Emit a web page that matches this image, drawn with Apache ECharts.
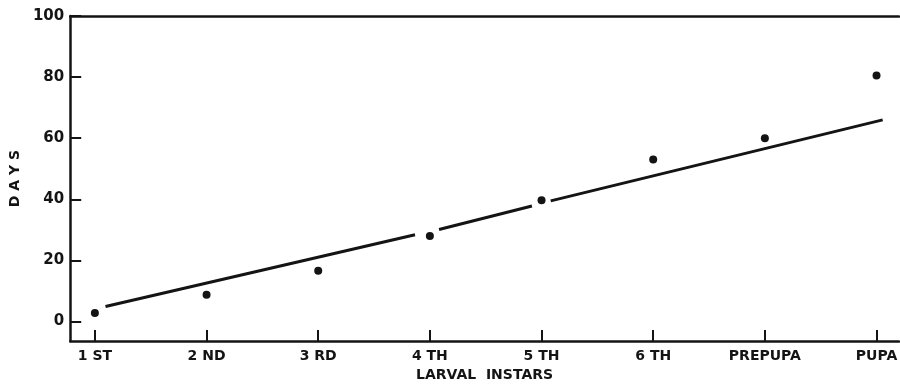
<!DOCTYPE html>
<html>
<head>
<meta charset="utf-8">
<script src="https://cdn.jsdelivr.net/npm/echarts@6/dist/echarts.min.js"></script>
<style>
  html, body { margin: 0; padding: 0; background: #fff; }
  #chart { width: 900px; height: 387px; }
</style>
</head>
<body>
<div id="chart"></div>
<script>
// stages (position 1..8 on the x axis)
var stages = ['1 ST', '2 ND', '3 RD', '4 TH', '5 TH', '6 TH', 'PREPUPA', 'PUPA'];
var stagePos = [1, 2, 3, 4, 5, 6, 7, 8];
// observed days for each stage
var days = [2.8, 8.8, 16.6, 28, 39.7, 53, 60, 80.5];
// fitted line (breaks where it passes the dots)
var fitLine = [[1.095, 4.9], [3.867, 28.4], null, [4.082, 30.1], [4.914, 37.8], null, [5.082, 39.5], [8.055, 66.0]];
var yTicks = [0, 20, 40, 60, 80, 100];

var ink = '#141414';
var font = '"DejaVu Sans", "Liberation Sans", sans-serif';

var chart = echarts.init(document.getElementById('chart'), null, { renderer: 'canvas' });

var points = [];
for (var i = 0; i < stagePos.length; i++) {
  points.push([stagePos[i], days[i]]);
}
var fitData = fitLine.map(function (p) { return p === null ? [null, null] : p; });

var option = {
  animation: false,
  backgroundColor: '#fff',
  grid: { left: 61, right: 0, top: 16, bottom: 40 },
  xAxis: [{
    type: 'value',
    position: 'bottom',
    min: 0.779,
    max: 8.2,
    splitLine: { show: false },
    axisLine: { show: true, onZero: false, lineStyle: { color: ink, width: 2.5 } },
    axisTick: {
      show: true, inside: true, length: 11,
      customValues: stagePos,
      lineStyle: { color: ink, width: 2 }
    },
    axisLabel: {
      show: true,
      customValues: stagePos,
      margin: 8,
      color: ink,
      fontFamily: font,
      fontWeight: 'bold',
      fontSize: 14,
      formatter: function (v) { return stages[Math.round(v) - 1]; }
    },
    name: 'LARVAL  INSTARS',
    nameLocation: 'middle',
    nameGap: 23,
    nameTextStyle: { color: ink, fontFamily: font, fontWeight: 'bold', fontSize: 14 }
  }, {
    type: 'value',
    position: 'top',
    min: 0.779,
    max: 8.2,
    splitLine: { show: false },
    axisLine: { show: true, onZero: false, lineStyle: { color: ink, width: 2.5 } },
    axisTick: { show: false },
    axisLabel: { show: false }
  }],
  yAxis: {
    type: 'value',
    min: -6.4,
    max: 100,
    splitLine: { show: false },
    axisLine: { show: true, onZero: false, lineStyle: { color: ink, width: 2.5 } },
    axisTick: {
      show: true, inside: true, length: 11,
      customValues: yTicks,
      lineStyle: { color: ink, width: 2 }
    },
    axisLabel: {
      show: true,
      customValues: yTicks,
      margin: 6,
      color: ink,
      fontFamily: font,
      fontWeight: 'bold',
      fontSize: 15
    },
    name: 'D A Y S',
    nameLocation: 'middle',
    nameGap: 43,
    nameTextStyle: { color: ink, fontFamily: font, fontWeight: 'bold', fontSize: 14 }
  },
  series: [{
    type: 'scatter',
    data: points,
    symbol: 'circle',
    symbolSize: 8,
    itemStyle: { color: ink, opacity: 1 }
  }, {
    type: 'line',
    data: fitData,
    showSymbol: false,
    connectNulls: false,
    lineStyle: { color: ink, width: 3 }
  }]
};

chart.setOption(option);
</script>
</body>
</html>
